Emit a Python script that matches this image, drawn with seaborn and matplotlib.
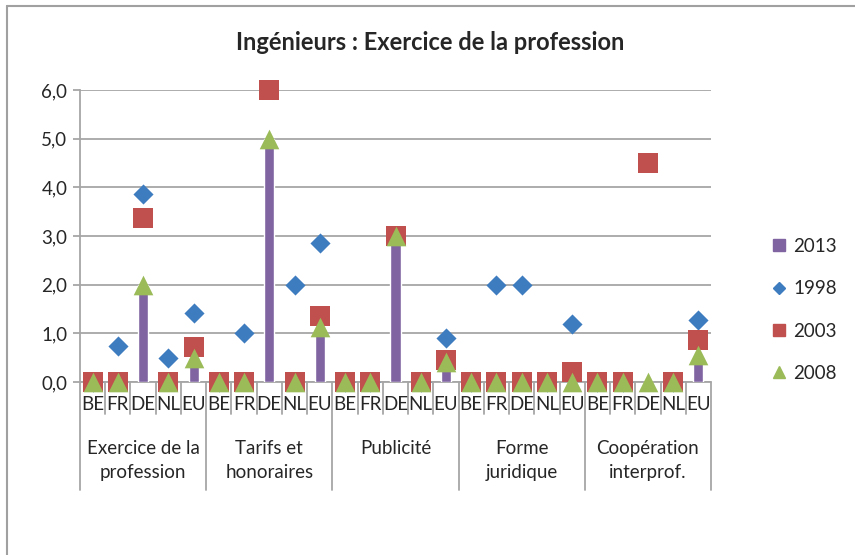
import numpy as np
import pandas as pd
import seaborn as sns
import matplotlib.pyplot as plt
from matplotlib.lines import Line2D
import matplotlib.transforms as mtransforms

# data
groups = ["Exercice de la\nprofession", "Tarifs et\nhonoraires", "Publicité",
          "Forme\njuridique", "Coopération\ninterprof."]
countries = ["BE", "FR", "DE", "NL", "EU"]
nan = np.nan
v2013 = [0, 0, 2.0, 0, 0.5,   0, 0, 5.0, 0, 1.13,   0, 0, 3.0, 0, 0.4,
         0, 0, 0, 0, 0,       0, 0, 0, 0, 0.55]
v1998 = [0, 0.75, 3.87, 0.5, 1.42,   0, 1.0, nan, 2.0, 2.86,   0, 0, nan, 0, 0.9,
         0, 2.0, 2.0, 0, 1.19,       0, 0, nan, 0, 1.27]
v2003 = [0, 0, 3.37, 0, 0.72,   0, 0, 6.0, 0, 1.36,   0, 0, 3.0, 0, 0.45,
         0, 0, 0, 0, 0.2,       0, 0, 4.5, 0, 0.86]
v2008 = [0, 0, 2.0, 0, 0.5,   0, 0, 5.0, 0, 1.13,   0, 0, 3.0, 0, 0.41,
         0, 0, 0, 0, 0,       0, 0, 0, 0, 0.55]

c2013, c1998, c2003, c2008 = "#8064A2", "#3E7CC0", "#C0504D", "#9BBB59"

sns.set_theme(style="white")
plt.rcParams['font.family'] = ['Lato', 'DejaVu Sans']

n = len(countries) * len(groups)
df = pd.DataFrame({
    "pos": np.arange(n),
    "country": countries * len(groups),
    "2013": v2013, "1998": v1998, "2003": v2003, "2008": v2008,
})

fig = plt.figure(figsize=(8.55, 5.55), dpi=100)
ax = fig.add_axes([80 / 855, 1 - 382 / 555, 631 / 855, 292 / 555])

sns.barplot(data=df, x="pos", y="2013", color=c2013, width=0.4,
            saturation=1, ax=ax, zorder=2)
sns.scatterplot(data=df, x="pos", y="1998", marker="D", s=105, color=c1998,
                linewidth=0, ax=ax, zorder=3, clip_on=False)
sns.scatterplot(data=df, x="pos", y="2003", marker="s", s=200, color=c2003,
                linewidth=0, ax=ax, zorder=4, clip_on=False)
sns.scatterplot(data=df, x="pos", y="2008", marker="^", s=200, color=c2008,
                linewidth=0, ax=ax, zorder=5, clip_on=False)

ax.set_xlim(-0.5, n - 0.5)
ax.set_ylim(0, 6)
ax.set_yticks(np.arange(0, 7, 1))
ax.set_yticklabels([f"{v:.1f}".replace(".", ",") for v in range(7)], fontsize=13.5)
ax.yaxis.grid(True, color="#A6A6A6", linewidth=1.3)
ax.set_axisbelow(True)
ax.tick_params(axis="y", left=True, length=5, width=1.3, color="#A6A6A6", pad=4)
ax.set_xticks([])
ax.set_xlabel("")
ax.set_ylabel("")
for s in ["top", "right", "bottom"]:
    ax.spines[s].set_visible(False)
ax.spines["left"].set_color("#A6A6A6")
ax.spines["left"].set_linewidth(1.3)

# category axis: country labels, group labels and separator lines
trans = mtransforms.blended_transform_factory(ax.transData, ax.transAxes)
ax.plot([-0.5, n - 0.5], [0, 0], transform=trans, color="#A6A6A6", lw=1.3,
        clip_on=False, zorder=1)
for i in range(n + 1):
    bottom = -0.37 if i % len(countries) == 0 else -0.11
    ax.plot([i - 0.5, i - 0.5], [0, bottom], transform=trans, color="#A6A6A6",
            lw=1.3, clip_on=False)
for i, c in enumerate(df["country"]):
    ax.text(i, -0.077, c, transform=trans, ha="center", va="center", fontsize=13.5)
for g, name in enumerate(groups):
    mid = g * len(countries) + (len(countries) - 1) / 2
    ax.text(mid, -0.2, name, transform=trans, ha="center", va="top",
            fontsize=13.5, linespacing=1.5)

fig.text(430 / 855, 1 - 43 / 555, "Ingénieurs : Exercice de la profession",
         ha="center", va="center", fontsize=17, fontweight="bold")

handles = [
    Line2D([], [], marker="s", color=c2013, linestyle="none", markersize=8),
    Line2D([], [], marker="D", color=c1998, linestyle="none", markersize=6),
    Line2D([], [], marker="s", color=c2003, linestyle="none", markersize=8),
    Line2D([], [], marker="^", color=c2008, linestyle="none", markersize=9),
]
fig.legend(handles, ["2013", "1998", "2003", "2008"], loc="center left",
           bbox_to_anchor=(755 / 855, 1 - 310 / 555), frameon=False,
           fontsize=13.5, labelspacing=1.35, handlelength=0.8, handletextpad=0.35)

# chart border (only top and left edges visible in the crop)
fig.add_artist(Line2D([7 / 855, 7 / 855], [0, 1 - 6 / 555], color="#A0A0A0",
                      lw=1.5, transform=fig.transFigure))
fig.add_artist(Line2D([7 / 855, 1], [1 - 6 / 555, 1 - 6 / 555], color="#A0A0A0",
                      lw=1.5, transform=fig.transFigure))

fig.savefig("out.png", dpi=100)
